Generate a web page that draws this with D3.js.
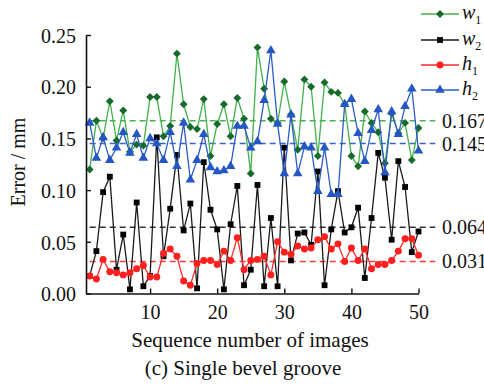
<!DOCTYPE html>
<html>
<head>
<meta charset="utf-8">
<script src="https://d3js.org/d3.v7.min.js"></script>
<style>
  html, body { margin: 0; padding: 0; background: #fff; }
  svg text { font-family: "Liberation Serif", "Times New Roman", serif; }
</style>
</head>
<body>
<script>
// values
var seqNo = d3.range(1, 51);

var w1 = [0.120, 0.167, 0.150, 0.186, 0.148, 0.177, 0.137, 0.144, 0.143, 0.190,
          0.190, 0.152, 0.162, 0.232, 0.183, 0.161, 0.159, 0.188, 0.133, 0.164,
          0.183, 0.152, 0.189, 0.169, 0.116, 0.238, 0.198, 0.169, 0.165, 0.205,
          0.173, 0.139, 0.207, 0.200, 0.133, 0.204, 0.195, 0.194, 0.183, 0.133,
          0.123, 0.176, 0.165, 0.156, 0.126, 0.174, 0.155, 0.165, 0.129, 0.160];

var w2 = [0.017, 0.041, 0.098, 0.113, 0.023, 0.057, 0.004, 0.088, 0.007, 0.017,
          0.151, 0.036, 0.082, 0.134, 0.061, 0.087, 0.005, 0.127, 0.081, 0.062,
          0.004, 0.067, 0.104, 0.008, 0.023, 0.105, 0.007, 0.073, 0.007, 0.141,
          0.032, 0.058, 0.059, 0.047, 0.118, 0.008, 0.062, 0.099, 0.059, 0.064,
          0.083, 0.015, 0.073, 0.136, 0.112, 0.052, 0.128, 0.103, 0.040, 0.060];

var h1 = [0.017, 0.014, 0.033, 0.021, 0.020, 0.018, 0.020, 0.024, 0.027, 0.016,
          0.016, 0.039, 0.043, 0.036, 0.012, 0.008, 0.029, 0.032, 0.032, 0.028,
          0.041, 0.032, 0.054, 0.023, 0.032, 0.033, 0.036, 0.018, 0.050, 0.040,
          0.038, 0.046, 0.043, 0.044, 0.052, 0.055, 0.043, 0.048, 0.031, 0.044,
          0.032, 0.043, 0.024, 0.028, 0.028, 0.032, 0.041, 0.053, 0.053, 0.037];

var h2 = [0.165, 0.131, 0.151, 0.129, 0.141, 0.156, 0.136, 0.154, 0.131, 0.150,
          0.145, 0.129, 0.156, 0.123, 0.165, 0.110, 0.129, 0.154, 0.122, 0.118,
          0.119, 0.123, 0.162, 0.162, 0.141, 0.147, 0.187, 0.235, 0.164, 0.116,
          0.173, 0.116, 0.142, 0.141, 0.099, 0.141, 0.096, 0.096, 0.183, 0.188,
          0.155, 0.128, 0.158, 0.178, 0.117, 0.176, 0.154, 0.181, 0.198, 0.138];

var seriesNames = ["w1", "w2", "h1", "h2"];
var meanValues = [0.167, 0.064, 0.031, 0.145];
var meanLabels = ["0.167", "0.064", "0.031", "0.145"];
var yTicks = [0, 0.05, 0.10, 0.15, 0.20, 0.25];
var xTicks = [10, 20, 30, 40, 50];

var W = 484, H = 388;

var svg = d3.select("body").append("svg")
  .attr("width", W)
  .attr("height", H);

var x = d3.scaleLinear().domain([0.45, 50]).range([86, 418.5]);
var y = d3.scaleLinear().domain([0, 0.25]).range([293.5, 35]);

var styles = {
  w1: {line: "#43b04a", mark: "#166b2c", dash: "#4cb050", symbol: d3.symbolDiamond2, size: 40},
  w2: {line: "#1a1a1a", mark: "#000000", dash: "#333333", symbol: d3.symbolSquare, size: 34},
  h1: {line: "#ff2a2a", mark: "#ff1f1f", dash: "#ff3b3b", symbol: d3.symbolCircle, size: 38},
  h2: {line: "#2c5cc5", mark: "#2456c4", dash: "#3464cc", symbol: d3.symbolTriangle, size: 40}
};

var dataByName = {w1: w1, w2: w2, h1: h1, h2: h2};

// mean dashed lines + labels (labels run off the right edge as in the original)
var means = seriesNames.map(function(n, i) {
  return {name: n, value: meanValues[i], label: meanLabels[i]};
});

svg.append("g").selectAll("line")
  .data(means)
  .enter()
  .append("line")
  .attr("x1", x(1))
  .attr("x2", x(52.5))
  .attr("y1", function(d) { return y(d.value); })
  .attr("y2", function(d) { return y(d.value); })
  .attr("stroke", function(d) { return styles[d.name].dash; })
  .attr("stroke-width", 1.4)
  .attr("stroke-dasharray", "6,4");

svg.append("g").selectAll("text")
  .data(means)
  .enter()
  .append("text")
  .attr("x", 442)
  .attr("y", function(d) { return y(d.value) + 7; })
  .attr("font-size", 20)
  .attr("fill", "#111")
  .text(function(d) { return d.label; });

// series
var line = d3.line()
  .x(function(d, i) { return x(seqNo[i]); })
  .y(function(d) { return y(d); });

seriesNames.forEach(function(n) {
  var st = styles[n];
  var g = svg.append("g");
  g.append("path")
    .datum(dataByName[n])
    .attr("d", line)
    .attr("fill", "none")
    .attr("stroke", st.line)
    .attr("stroke-width", 1.3);
  g.selectAll("path.m")
    .data(dataByName[n])
    .enter()
    .append("path")
    .attr("class", "m")
    .attr("d", d3.symbol().type(st.symbol).size(st.size))
    .attr("transform", function(d, i) { return "translate(" + x(seqNo[i]) + "," + y(d) + ")"; })
    .attr("fill", st.mark);
});

// axes
var yAxis = d3.axisLeft(y)
  .tickValues(yTicks)
  .tickFormat(d3.format(".2f"))
  .tickSizeInner(-5)
  .tickSizeOuter(0)
  .tickPadding(10);

var gy = svg.append("g")
  .attr("transform", "translate(" + x.range()[0] + ",0)")
  .call(yAxis);

var xAxis = d3.axisBottom(x)
  .tickValues(xTicks)
  .tickFormat(d3.format("d"))
  .tickSizeInner(-5)
  .tickSizeOuter(0)
  .tickPadding(10);

var gx = svg.append("g")
  .attr("transform", "translate(0," + y(0) + ")")
  .call(xAxis);

[gx, gy].forEach(function(g) {
  g.selectAll("path.domain").attr("stroke", "#111").attr("stroke-width", 1.6);
  g.selectAll(".tick line").attr("stroke", "#111").attr("stroke-width", 1.4);
  g.selectAll(".tick text")
    .attr("font-family", "Liberation Serif, serif")
    .attr("font-size", 20)
    .attr("fill", "#111");
});
gy.selectAll(".tick text").attr("dy", "0.36em");
gx.selectAll(".tick text").attr("dy", "0.75em");

// titles
svg.append("text")
  .attr("x", 250)
  .attr("y", 347)
  .attr("text-anchor", "middle")
  .attr("font-size", 21)
  .attr("fill", "#111")
  .text("Sequence number of images");

svg.append("text")
  .attr("x", 243)
  .attr("y", 375)
  .attr("text-anchor", "middle")
  .attr("font-size", 21)
  .attr("fill", "#111")
  .text("(c) Single bevel groove");

svg.append("text")
  .attr("transform", "translate(25,162) rotate(-90)")
  .attr("text-anchor", "middle")
  .attr("font-size", 20)
  .attr("fill", "#111")
  .text("Error / mm");

// legend
var legendY = [14, 40, 65, 90];
var legend = svg.append("g");
seriesNames.forEach(function(n, i) {
  var st = styles[n];
  var ly = legendY[i];
  legend.append("line")
    .attr("x1", 421).attr("x2", 459)
    .attr("y1", ly).attr("y2", ly)
    .attr("stroke", st.line)
    .attr("stroke-width", 1.3);
  legend.append("path")
    .attr("d", d3.symbol().type(st.symbol).size(st.size))
    .attr("transform", "translate(440," + ly + ")")
    .attr("fill", st.mark);
  var t = legend.append("text")
    .attr("x", 462)
    .attr("y", ly + 5)
    .attr("font-size", 20)
    .attr("fill", "#111");
  t.append("tspan").attr("font-style", "italic").text(n.charAt(0));
  t.append("tspan").attr("font-size", 12).attr("dy", 5).text(n.charAt(1));
});
</script>
</body>
</html>
